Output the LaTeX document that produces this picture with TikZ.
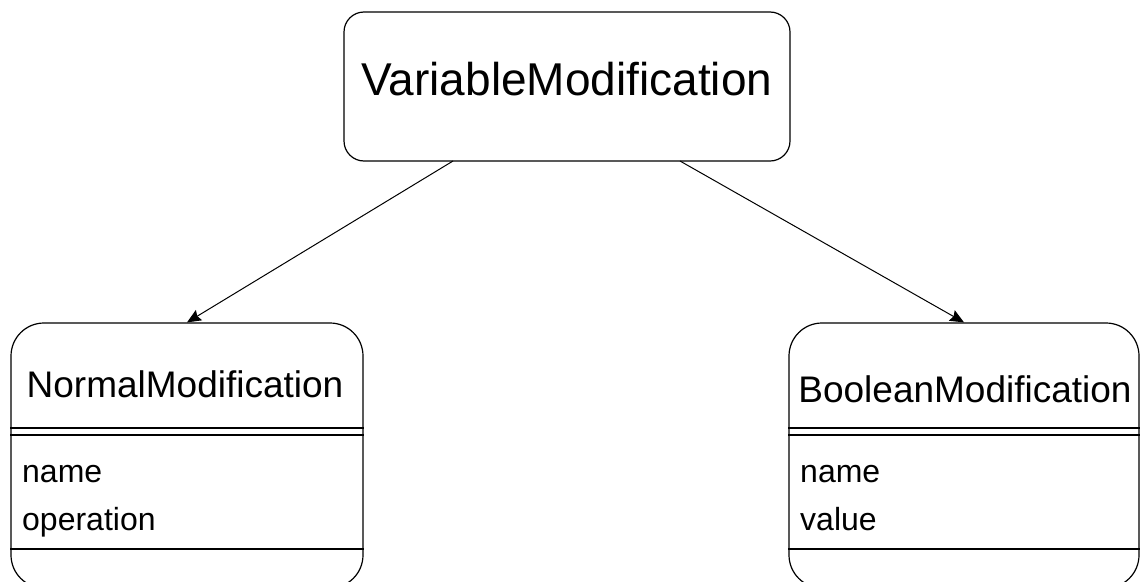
\documentclass[tikz,border=0pt]{standalone}
\usepackage{fontspec}
\setmainfont{Liberation Sans}
\usetikzlibrary{arrows.meta}
\begin{document}
\begin{tikzpicture}[x=1pt,y=-1pt,
  box/.style={draw,line width=1.2pt,inner sep=0pt,fill=white},
  sep/.style={line width=1.2pt},
  title/.style={anchor=base,inner sep=0pt,font=\fontsize{37}{40}\selectfont},
  attr/.style={anchor=base west,inner sep=0pt,font=\fontsize{32}{36}\selectfont},
  inherit/.style={line width=1pt,-{Stealth[length=14pt,width=12pt,inset=2pt]}}]
\useasboundingbox (0,0) rectangle (1140,581);
\clip (0,0) rectangle (1140,581);
\fill[white] (0,0) rectangle (1140,581);

% base class
\node[box,rounded corners=20pt,minimum width=446pt,minimum height=149pt] (vm) at (567,86.5) {};
\node[anchor=base,inner sep=0pt,font=\fontsize{46}{50}\selectfont] (vmt) at (567,95) {VariableModification};

% NormalModification
\node[box,rounded corners=33pt,minimum width=352pt,minimum height=265pt] (nm) at (187,455.5) {};
\node[title] (nmt) at (185,397) {NormalModification};
\draw[sep] (nm.west |- 0,428) -- (nm.east |- 0,428);
\draw[sep] (nm.west |- 0,435) -- (nm.east |- 0,435);
\draw[sep] (nm.west |- 0,549) -- (nm.east |- 0,549);
\node[attr] (nma) at (22,482) {name};
\node[attr] (nmb) at (22,530) {operation};

% BooleanModification
\node[box,rounded corners=33pt,minimum width=350pt,minimum height=265pt] (bm) at (964,455.5) {};
\node[title] (bmt) at (965,402) {BooleanModification};
\draw[sep] (bm.west |- 0,428) -- (bm.east |- 0,428);
\draw[sep] (bm.west |- 0,435) -- (bm.east |- 0,435);
\draw[sep] (bm.west |- 0,549) -- (bm.east |- 0,549);
\node[attr] (bma) at (800,482) {name};
\node[attr] (bmb) at (800,530) {value};

% inheritance connectors
\coordinate (vmL) at (453,161);
\coordinate (vmR) at (680,161);
\draw[inherit] (vmL) -- (nm.north);
\draw[inherit] (vmR) -- (bm.north);
\end{tikzpicture}
\end{document}
